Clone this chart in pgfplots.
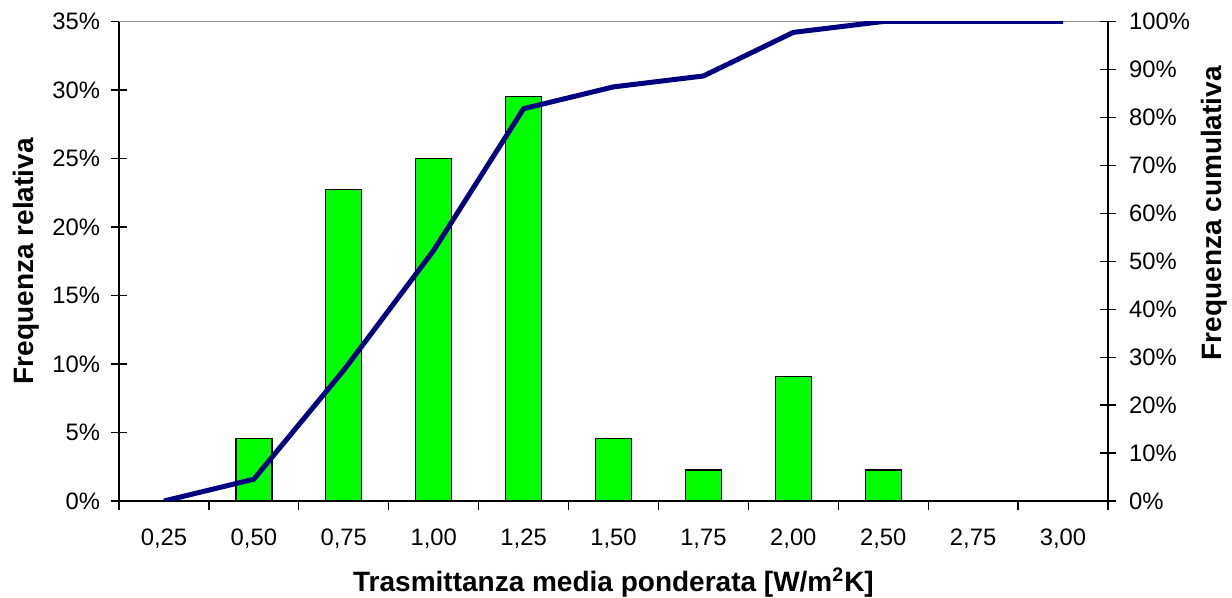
\documentclass[border=0pt]{standalone}
\usepackage{fontspec}
\setmainfont{Liberation Sans}
\usepackage{pgfplots}
\pgfplotsset{compat=1.18}
\definecolor{barg}{RGB}{0,255,0}
\definecolor{navyl}{RGB}{0,0,128}
\begin{document}
\begin{tikzpicture}
\useasboundingbox (-59.5pt,-48.5pt) rectangle (556.5pt,250.5pt);
\pgfplotsset{
  common/.style={
    scale only axis, width=494.5pt, height=239.75pt,
    xmin=-0.5, xmax=10.5,
    /pgf/number format/assume math mode=true,
    tick label style={font=\fontsize{11.9}{14}\selectfont},
    major tick length=8pt, tick align=center,
    tick style={black, line width=0.6pt},
    axis line style={-, black, line width=0.6pt},
  }
}
\begin{axis}[common,
  axis x line*=bottom, axis y line*=left,
  ymin=0, ymax=35, ytick={0,5,...,35},
  yticklabel={\pgfmathprintnumber{\tick}\%},
  yticklabel style={xshift=-2pt},
  xtick={0,...,10},
  xticklabels={{0,25},{0,50},{0,75},{1,00},{1,25},{1,50},{1,75},{2,00},{2,50},{2,75},{3,00}},
  xticklabel style={yshift=-6.5pt},
  major x tick style={draw=none},
  minor xtick={-0.5,0.5,...,10.5},
  minor tick length=4.5pt,
  minor x tick style={yshift=-2.25pt},
  xlabel={Trasmittanza media ponderata [W/m\textsuperscript{2}K]},
  ylabel={Frequenza relativa},
  every axis x label/.style={at={(rel axis cs:0.5,0)}, anchor=base, yshift=-45.5pt, font=\bfseries\fontsize{14}{16}\selectfont},
  every axis y label/.style={at={(rel axis cs:-0.094,0.5)}, rotate=90, anchor=center, font=\bfseries\fontsize{14}{16}\selectfont},
]
\draw[black!45, line width=0.6pt] (rel axis cs:0,1) -- (rel axis cs:1,1);
\addplot[ybar, bar width=0.4, fill=barg, draw=black, line width=0.7pt] coordinates {
  (0,0) (1,4.545) (2,22.727) (3,25.0) (4,29.545) (5,4.545) (6,2.273) (7,9.091) (8,2.273) (9,0) (10,0)
};
\end{axis}
\begin{axis}[common,
  axis x line=none, axis y line*=right,
  ymin=0, ymax=100, ytick={0,10,...,100},
  yticklabel={\pgfmathprintnumber{\tick}\%},
  yticklabel style={xshift=3pt},
  ylabel={Frequenza cumulativa},
  every axis y label/.style={at={(rel axis cs:1.1072,0.6)}, rotate=90, anchor=center, font=\bfseries\fontsize{14}{16}\selectfont},
]
\addplot[navyl, line width=2.5pt] coordinates {
  (0,0) (1,4.545) (2,27.273) (3,52.273) (4,81.818) (5,86.364) (6,88.636) (7,97.727) (8,100) (9,100) (10,100)
};
\end{axis}
\end{tikzpicture}
\end{document}
